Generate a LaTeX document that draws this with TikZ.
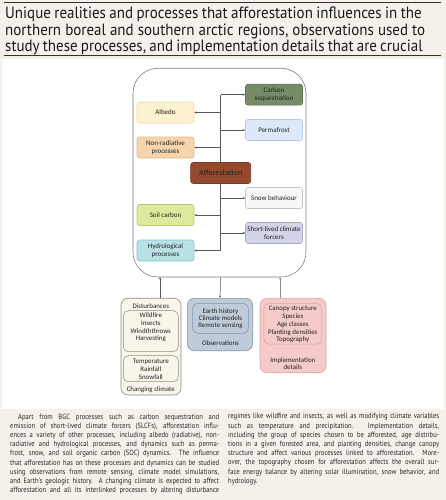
\documentclass[tikz,border=0pt]{standalone}
\usepackage{fontspec}
\setmainfont{Carlito}
\newfontfamily\titlefont[FakeStretch=0.92]{PT Sans}
\newfontfamily\bodyfont[FakeStretch=0.87]{PT Sans}
\usetikzlibrary{arrows.meta}
\definecolor{bg}{HTML}{F3F1EA}
\definecolor{cseq}{HTML}{758C67}\definecolor{cseqd}{HTML}{5E7552}
\definecolor{alb}{HTML}{FDF2D0}\definecolor{albd}{HTML}{F0DCA2}
\definecolor{perm}{HTML}{DDE8F8}\definecolor{permd}{HTML}{B8CCE8}
\definecolor{nonr}{HTML}{F6D5AE}\definecolor{nonrd}{HTML}{E6B98A}
\definecolor{affo}{HTML}{954A2F}\definecolor{affod}{HTML}{7A3A22}
\definecolor{snow}{HTML}{F8F8F8}\definecolor{snowd}{HTML}{C4C4C4}
\definecolor{soil}{HTML}{DDE99C}\definecolor{soild}{HTML}{B9C97A}
\definecolor{slcf}{HTML}{D4D4E8}\definecolor{slcfd}{HTML}{A9A9C8}
\definecolor{hydr}{HTML}{B9E2E6}\definecolor{hydrd}{HTML}{88C3C8}
\definecolor{ccf}{HTML}{F8F5EB}\definecolor{ccd}{HTML}{8E8A80}
\definecolor{obf}{HTML}{BFCBD8}\definecolor{obd}{HTML}{8093A8}
\definecolor{imf}{HTML}{F5CACA}\definecolor{imd}{HTML}{E2A0A0}
\definecolor{txt}{HTML}{222222}
\newcommand{\LL}[1]{\makebox[209pt][s]{#1}\\}
\newcommand{\RL}[1]{\makebox[211pt][s]{#1}\\}
\begin{document}
\begin{tikzpicture}[x=1pt,y=-1pt,
  box/.style={draw, rounded corners=2.5pt, minimum width=57pt, minimum height=21pt,
    align=center, font=\fontsize{7}{7.7}\selectfont, text=txt, inner sep=1pt, line width=0.6pt},
  arr/.style={-{Stealth[length=2.6pt,width=2.2pt]}, draw=black!65, line width=0.5pt},
  ln/.style={draw=black!65, line width=0.5pt},
  outer/.style={draw, rounded corners=7pt, line width=0.6pt},
  inner/.style={draw, rounded corners=5pt, line width=0.5pt},
  lbl/.style={align=center, font=\fontsize{6.9}{7.8}\selectfont, text=txt, inner sep=0pt},
  body/.style={anchor=north west, inner sep=0, align=left, font=\bodyfont\fontsize{7.6}{9.2}\selectfont, text=black!85},
  rule/.style={draw=black!80, line width=0.8pt}]
\path[use as bounding box, fill=bg] (0,0) rectangle (446,500);
% title
\coordinate (r1a) at (4,2.7); \coordinate (r1b) at (441,2.7);
\coordinate (r2a) at (4,55); \coordinate (r2b) at (441,55);
\draw[rule] (r1a) -- (r1b);
\draw[rule] (r2a) -- (r2b);
\node[anchor=base west, inner sep=0, font=\titlefont\fontsize{16.3}{16.7}\selectfont, text=black!90] (t1) at (5,18.4)
  {\makebox[416.5pt][s]{Unique realities and processes that afforestation influences in the}};
\node[anchor=base west, inner sep=0, font=\titlefont\fontsize{16.3}{16.7}\selectfont, text=black!90] (t2) at (5,35.1)
  {\makebox[420pt][s]{northern boreal and southern arctic regions, observations used to}};
\node[anchor=base west, inner sep=0, font=\titlefont\fontsize{16.3}{16.7}\selectfont, text=black!90] (t3) at (5,51.7)
  {\makebox[417.5pt][s]{study these processes, and implementation details that are crucial}};
% white panel
\fill[white] (2,59) rectangle (444,409);
% big box
\node[draw=black!50, fill=white, rounded corners=25pt, line width=0.6pt, minimum width=173pt, minimum height=208.7pt] (big) at (219.5,172.65) {};
% boxes
\node[box, fill=cseq, draw=cseqd] (cs) at (274,94.7) {Carbon\\sequestration};
\node[box, fill=alb, draw=albd] (al) at (165.5,112.5) {Albedo};
\node[box, fill=perm, draw=permd] (pf) at (274,130) {Permafrost};
\node[box, fill=nonr, draw=nonrd] (nr) at (165.5,147.5) {Non-radiative\\processes};
\node[box, fill=snow, draw=snowd] (sb) at (274,198) {Snow behaviour};
\node[box, fill=soil, draw=soild] (sc) at (165.5,215) {Soil carbon};
\node[box, fill=slcf, draw=slcfd] (sl) at (274,233) {Short-lived climate\\forcers};
\node[box, fill=hydr, draw=hydrd] (hy) at (165.5,250.5) {Hydrological\\processes};
% trunk
\coordinate (ttop) at (220.5,94.7);
\coordinate (tbot) at (220.5,250.5);
\draw[ln] (ttop) -- (tbot);
\draw[arr] (ttop) -- (cs.west);
\draw[arr] (al.east -| ttop) -- (al.east);
\draw[arr] (pf.west -| ttop) -- (pf.west);
\draw[arr] (nr.east -| ttop) -- (nr.east);
\draw[arr] (sb.west -| ttop) -- (sb.west);
\draw[arr] (sc.east -| ttop) -- (sc.east);
\draw[arr] (sl.west -| ttop) -- (sl.west);
\draw[arr] (tbot) -- (hy.east);
\node[box, fill=affo, draw=affod, minimum width=60pt, font=\fontsize{8.2}{9}\selectfont] (af) at (220.7,173) {Afforestation};
% bottom boxes
\node[outer, fill=ccf, draw=ccd, minimum width=60pt, minimum height=96.7pt] (cc) at (151,346.6) {};
\node[inner, fill=ccf, draw=ccd, minimum width=55pt, minimum height=41pt] (cc1) at (150.8,331.2) {};
\node[inner, fill=ccf, draw=ccd, minimum width=55pt, minimum height=26pt] (cc2) at (150.8,368.7) {};
\node[lbl] (ccl0) at (150.8,305.9) {Disturbances};
\node[lbl] (ccl1) at (150.8,327.3) {Wildfire\\Insects\\Windththrows\\Harvesting};
\node[lbl] (ccl2) at (150.8,369.5) {Temperature\\Rainfall\\Snowfall};
\node[lbl] (ccl3) at (150.8,390) {Changing climate};
\node[outer, fill=obf, draw=obd, minimum width=65.4pt, minimum height=52.4pt] (ob) at (220,324.5) {};
\node[inner, fill=obf, draw=obd, minimum width=55.6pt, minimum height=30pt] (ob1) at (220.5,318.3) {};
\node[lbl, font=\fontsize{6.9}{7.4}\selectfont] (obl1) at (220.5,318.7) {Earth history\\Climate models\\Remote sensing};
\node[lbl] (obl2) at (220.5,343.3) {Observations};
\node[outer, fill=imf, draw=imd, minimum width=66pt, minimum height=74.4pt] (im) at (293,335.5) {};
\node[inner, fill=imf, draw=imd, minimum width=57.7pt, minimum height=40.7pt] (im1) at (292.8,323.7) {};
\node[lbl, font=\fontsize{6.9}{7.7}\selectfont] (iml1) at (292.8,324.7) {Canopy structure\\Species\\Age classes\\Planting densities\\Topography};
\node[lbl] (iml2) at (292.8,363.7) {Implementation\\details};
% vertical connectors
\coordinate (a1) at (160,277);
\coordinate (a3) at (280,277);
\draw[arr] (a1 |- cc.north) -- (a1);
\draw[arr] (af.south |- big.south) -- (ob.north);
\draw[arr, draw=black!45] (a3 |- im.north) -- (a3);
% body text
\node[body] (bl) at (10,413.4)
{\LL{\hspace*{8pt}Apart from BGC processes such as carbon sequestration and}
\LL{emission of short-lived climate forcers (SLCFs), afforestation influ-}
\LL{ences a variety of other processes, including albedo (radiative), non-}
\LL{radiative and hydrological processes, and dynamics such as perma-}
\LL{frost, snow, and soil organic carbon (SOC) dynamics. The influence}
\LL{that afforestation has on these processes and dynamics can be studied}
\LL{using observations from remote sensing, climate model simulations,}
\LL{and Earth’s geologic history. A changing climate is expected to affect}
\makebox[209pt][s]{afforestation and all its interlinked processes by altering disturbance}};
\node[body] (br) at (228,413.4)
{\RL{regimes like wildfire and insects, as well as modifying climate variables}
\RL{such as temperature and precipitation. Implementation details,}
\RL{including the group of species chosen to be afforested, age distribu-}
\RL{tions in a given forested area, and planting densities, change canopy}
\RL{structure and affect various processes linked to afforestation. More-}
\RL{over, the topography chosen for afforestation affects the overall sur-}
\RL{face energy balance by altering solar illumination, snow behavior, and}
hydrology.};
\end{tikzpicture}
\end{document}
